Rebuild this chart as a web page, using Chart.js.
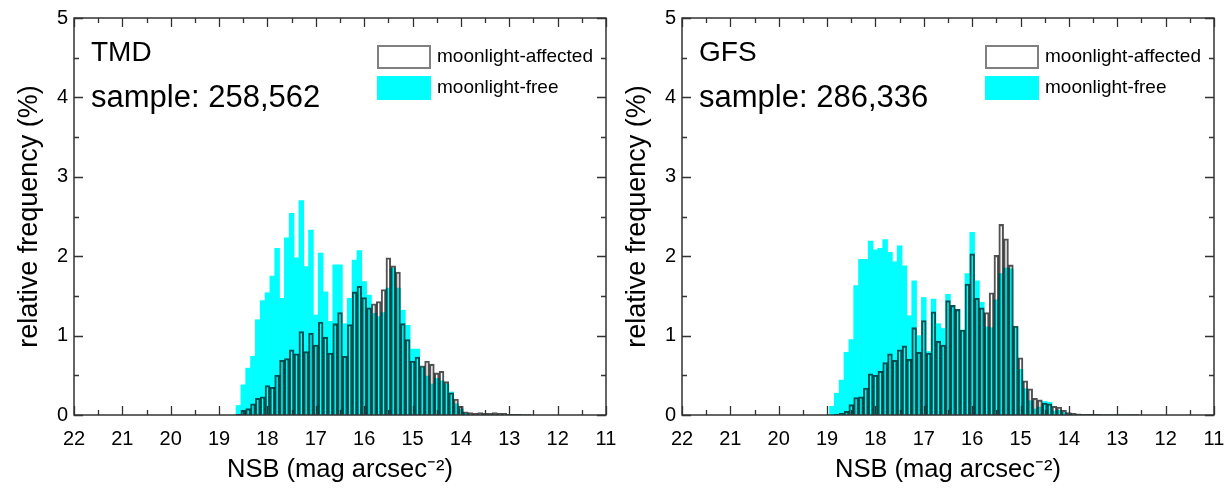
<!DOCTYPE html>
<html>
<head>
<meta charset="utf-8">
<script src="https://cdn.jsdelivr.net/npm/chart.js@4.4.0/dist/chart.umd.min.js"></script>
<style>
  html, body { margin: 0; padding: 0; background: #fff; }
  body { width: 1231px; height: 495px; position: relative; overflow: hidden; }
  canvas { position: absolute; top: 0; }
  #tmd { left: 0; }
  #gfs { left: 608px; }
</style>
</head>
<body>
<canvas id="tmd" width="630" height="495"></canvas>
<canvas id="gfs" width="630" height="495"></canvas>
<script>
// NSB histogram, 0.1 mag bins (bin centres), values in %

const tmdNsb = [18.6, 18.5, 18.4, 18.3, 18.2, 18.1, 18.0, 17.9, 17.8, 17.7,
  17.6, 17.5, 17.4, 17.3, 17.2, 17.1, 17.0, 16.9, 16.8, 16.7,
  16.6, 16.5, 16.4, 16.3, 16.2, 16.1, 16.0, 15.9, 15.8, 15.7,
  15.6, 15.5, 15.4, 15.3, 15.2, 15.1, 15.0, 14.9, 14.8, 14.7,
  14.6, 14.5, 14.4, 14.3, 14.2, 14.1, 14.0, 13.9, 13.8, 13.7,
  13.6, 13.5, 13.4, 13.3, 13.2, 13.1, 13.0, 12.9, 12.8, 12.7, 12.6];
const tmdFree = [0.12, 0.38, 0.59, 0.74, 1.2, 1.44, 1.54, 1.75, 2.1, 1.47,
  2.23, 2.54, 1.98, 2.7, 1.87, 2.33, 1.26, 2.04, 1.55, 1.18,
  1.89, 1.89, 1.15, 1.47, 1.95, 2.07, 1.68, 1.51, 1.28, 1.24,
  1.29, 1.6, 1.85, 1.6, 1.32, 1.13, 0.83, 0.83, 0.6, 0.49,
  0.39, 0.46, 0.43, 0.39, 0.29, 0.14, 0.075, 0.02, 0, 0,
  0, 0, 0, 0, 0, 0, 0, 0, 0, 0, 0];
const tmdAffected = [0.01, 0.06, 0.08, 0.14, 0.21, 0.23, 0.37, 0.35, 0.5, 0.69,
  0.71, 0.82, 0.77, 1.05, 0.8, 1.03, 0.88, 1.17, 0.98, 0.78,
  1.15, 1.29, 0.74, 1.14, 1.55, 1.62, 1.48, 1.35, 1.4, 1.43,
  1.58, 1.98, 1.88, 1.8, 1.15, 0.95, 0.68, 0.73, 0.62, 0.68,
  0.64, 0.53, 0.55, 0.42, 0.28, 0.2, 0.11, 0.04, 0.03, 0.02,
  0.03, 0.02, 0.02, 0.03, 0.02, 0.02, 0.01, 0.01, 0.01, 0.005, 0.005];
const tmdSample = '258,562';

const gfsNsb = [18.9, 18.8, 18.7, 18.6, 18.5, 18.4, 18.3, 18.2, 18.1, 18.0,
  17.9, 17.8, 17.7, 17.6, 17.5, 17.4, 17.3, 17.2, 17.1, 17.0,
  16.9, 16.8, 16.7, 16.6, 16.5, 16.4, 16.3, 16.2, 16.1, 16.0,
  15.9, 15.8, 15.7, 15.6, 15.5, 15.4, 15.3, 15.2, 15.1, 15.0,
  14.9, 14.8, 14.7, 14.6, 14.5, 14.4, 14.3, 14.2, 14.1, 14.0,
  13.9, 13.8, 13.7, 13.6, 13.5, 13.4, 13.3, 13.2, 13.1, 13.0,
  12.9, 12.8, 12.7, 12.6];
const gfsFree = [0.11, 0.275, 0.44, 0.79, 0.95, 1.63, 1.96, 1.96, 2.19, 2.08,
  2.1, 2.21, 2.05, 1.93, 2.13, 1.88, 1.25, 1.69, 1.0, 1.48,
  0.8, 1.46, 1.15, 1.09, 1.52, 1.38, 1.33, 1.07, 1.78, 2.3,
  1.69, 1.42, 1.11, 1.1, 1.45, 1.78, 1.85, 1.84, 1.11, 0.575,
  0.33, 0.18, 0.075, 0.1, 0.17, 0.16, 0.05, 0.06, 0.03, 0.01,
  0, 0, 0, 0, 0, 0, 0, 0, 0, 0,
  0, 0, 0, 0];
const gfsAffected = [0, 0.01, 0.02, 0.045, 0.13, 0.22, 0.23, 0.34, 0.52, 0.5,
  0.55, 0.66, 0.77, 0.69, 0.82, 0.87, 0.7, 1.1, 0.79, 1.19,
  0.78, 1.3, 0.93, 0.88, 1.44, 1.38, 1.33, 1.07, 1.65, 2.03,
  1.47, 1.35, 1.29, 1.54, 2.01, 2.4, 2.22, 1.89, 1.12, 0.72,
  0.43, 0.33, 0.21, 0.19, 0.15, 0.14, 0.11, 0.1, 0.06, 0.03,
  0.02, 0.015, 0.01, 0.01, 0.01, 0.01, 0.005, 0.005, 0.005, 0.005,
  0.005, 0.005, 0.005, 0.005];
const gfsSample = '286,336';

const FONT = '"Liberation Sans", Arial, sans-serif';
Chart.defaults.font.family = FONT;
Chart.defaults.color = '#000';

// box round the plot + inward ticks on all four sides
const frameTicks = {
  id: 'frameTicks',
  afterDatasetsDraw(chart) {
    const { ctx, chartArea: a, scales: { x, y } } = chart;
    ctx.save();
    ctx.strokeStyle = '#333';
    ctx.lineWidth = 1.3;
    ctx.beginPath();
    for (let v = x.min; v <= x.max + 1e-9; v += 0.5) {
      const px = Math.round(x.getPixelForValue(v)) + 0.5;
      const len = Number.isInteger(v) ? 9 : 5;
      ctx.moveTo(px, a.bottom); ctx.lineTo(px, a.bottom - len);
      ctx.moveTo(px, a.top); ctx.lineTo(px, a.top + len);
    }
    for (let v = y.min; v <= y.max + 1e-9; v += 0.5) {
      const py = Math.round(y.getPixelForValue(v)) + 0.5;
      const len = Number.isInteger(v) ? 9 : 5;
      ctx.moveTo(a.left, py); ctx.lineTo(a.left + len, py);
      ctx.moveTo(a.right, py); ctx.lineTo(a.right - len, py);
    }
    ctx.stroke();
    ctx.lineWidth = 1.5;
    ctx.strokeRect(a.left, a.top, a.right - a.left, a.bottom - a.top);
    ctx.restore();
  }
};

// panel name, sample size and the legend inside the plot
const panelText = {
  id: 'panelText',
  afterDraw(chart, args, opts) {
    const { ctx, chartArea: a } = chart;
    ctx.save();
    ctx.fillStyle = '#000';
    ctx.textBaseline = 'middle';
    ctx.font = '28px ' + FONT;
    ctx.fillText(opts.name, a.left + 17, a.top + 35);
    ctx.font = '31px ' + FONT;
    ctx.fillText('sample: ' + opts.sample, a.left + 17, a.top + 80);

    chart.data.datasets.forEach((ds, i) => {
      const top = a.top + 27 + i * 31;
      const left = a.left + 303;
      ctx.fillStyle = ds.backgroundColor;
      ctx.fillRect(left, top, 54, 24);
      if (ds.borderWidth) {
        ctx.strokeStyle = '#808080';
        ctx.lineWidth = 2;
        ctx.strokeRect(left + 1, top + 1, 52, 22);
      }
      ctx.fillStyle = '#000';
      ctx.font = '19px ' + FONT;
      ctx.fillText(ds.label, a.left + 363, top + 12);
    });
    ctx.restore();
  }
};

function makePanel(id, nsb, free, affected, name, sample) {
  const toPoints = (vals) => nsb.map((m, i) => ({ x: m, y: vals[i] }));
  return new Chart(document.getElementById(id), {
    type: 'bar',
    data: {
      datasets: [
        {
          label: 'moonlight-affected',
          data: toPoints(affected),
          backgroundColor: 'rgba(0,0,0,0)',
          borderColor: 'rgba(0,0,0,0.68)',
          borderWidth: 1.4
        },
        {
          label: 'moonlight-free',
          data: toPoints(free),
          backgroundColor: '#00ffff',
          borderWidth: 0
        }
      ]
    },
    options: {
      responsive: false,
      animation: false,
      events: [],
      grouped: false,
      barPercentage: 1,
      categoryPercentage: 1,
      layout: { padding: { top: 14, right: 24, bottom: 0, left: 0 } },
      plugins: {
        legend: { display: false },
        tooltip: { enabled: false },
        panelText: { name: name, sample: sample }
      },
      scales: {
        x: {
          type: 'linear',
          reverse: true,
          min: 11,
          max: 22,
          offset: false,
          grid: { display: false, drawTicks: false, offset: false },
          border: { display: false },
          ticks: { stepSize: 1, padding: 12, maxRotation: 0, autoSkip: false, font: { size: 20 } },
          title: {
            display: true,
            text: 'NSB (mag arcsec\u207B\u00B2)',
            font: { size: 25.5 },
            padding: { top: 0, bottom: 10 }
          },
          afterFit: (s) => { s.height = 80; }
        },
        y: {
          min: 0,
          max: 5,
          grid: { display: false, drawTicks: false },
          border: { display: false },
          ticks: { stepSize: 1, padding: 6, font: { size: 20 } },
          title: {
            display: true,
            text: 'relative frequency (%)',
            font: { size: 27 },
            padding: { top: 13, bottom: 0 }
          },
          afterFit: (s) => { s.width = 74; }
        }
      }
    },
    plugins: [frameTicks, panelText]
  });
}

makePanel('tmd', tmdNsb, tmdFree, tmdAffected, 'TMD', tmdSample);
makePanel('gfs', gfsNsb, gfsFree, gfsAffected, 'GFS', gfsSample);
</script>
</body>
</html>
